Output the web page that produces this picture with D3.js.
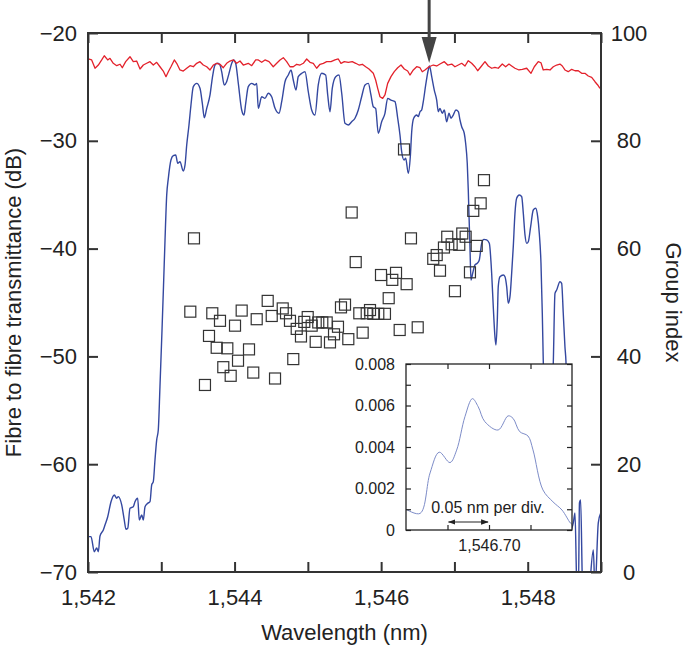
<!DOCTYPE html>
<html><head><meta charset="utf-8">
<script src="https://cdn.jsdelivr.net/npm/d3@7"></script>
<style>
body{margin:0;background:#fff}
svg text{font-family:"Liberation Sans",Arial,Helvetica,sans-serif;fill:#222}
</style>
</head><body>
<svg id="chart" width="685" height="648"></svg>
<script>
// ---------------- DATA ----------------
const wavelengthTicks = [1542,1543,1544,1545,1546,1547,1548,1549];
const wavelengthLabels = [1542,1544,1546,1548];
const transmittanceTicks = [-70,-60,-50,-40,-30,-20];
const groupIndexTicks = [0,20,40,60,80,100];
const insetYTicks = [0,0.001,0.002,0.003,0.004,0.005,0.006,0.007,0.008];
const insetYLabels = [0,0.002,0.004,0.006,0.008];
const insetXTicks = [1546.65,1546.70,1546.75];
const insetXLabels = [1546.70];
const arrowWavelength = 1546.655;
const divStart = 1546.65, divEnd = 1546.70;

// blue: fibre-to-fibre transmittance (dB)
const transmittance = [
[1542.004,-66.72],[1542.041,-66.72],[1542.086,-68.12],[1542.119,-67.77],[1542.141,-68.12],[1542.164,-66.66],
[1542.209,-66.10],[1542.232,-65.64],[1542.269,-64.87],[1542.314,-63.48],[1542.359,-62.86],[1542.392,-63.16],
[1542.413,-63.01],[1542.460,-63.78],[1542.495,-65.18],[1542.518,-66.04],[1542.542,-65.95],[1542.573,-64.09],
[1542.618,-63.94],[1542.641,-63.48],[1542.678,-63.16],[1542.700,-65.18],[1542.733,-64.71],[1542.755,-65.18],
[1542.778,-63.94],[1542.815,-63.63],[1542.846,-63.48],[1542.869,-61.93],[1542.891,-61.62],[1542.914,-59.61],
[1542.937,-57.76],[1542.959,-56.83],[1542.982,-52.81],[1543.010,-47.55],[1543.033,-42.91],[1543.051,-39.20],
[1543.074,-35.03],[1543.096,-33.48],[1543.132,-31.78],[1543.164,-31.38],[1543.197,-31.32],[1543.224,-32.09],
[1543.255,-31.94],[1543.300,-32.80],[1543.324,-32.24],[1543.347,-30.39],[1543.378,-28.53],[1543.405,-26.68],
[1543.437,-24.98],[1543.483,-24.67],[1543.528,-25.13],[1543.560,-26.52],[1543.587,-27.86],[1543.620,-26.99],
[1543.665,-25.75],[1543.696,-24.20],[1543.733,-22.97],[1543.770,-22.81],[1543.801,-22.97],[1543.824,-23.59],
[1543.860,-24.82],[1543.892,-24.52],[1543.924,-23.74],[1543.961,-22.81],[1543.988,-22.50],[1544.015,-22.81],
[1544.051,-24.67],[1544.097,-27.14],[1544.129,-27.61],[1544.152,-26.52],[1544.187,-24.98],[1544.234,-24.67],
[1544.279,-24.82],[1544.302,-24.67],[1544.324,-26.99],[1544.370,-25.91],[1544.415,-26.06],[1544.460,-25.59],
[1544.506,-25.91],[1544.552,-26.99],[1544.606,-27.45],[1544.643,-26.37],[1544.688,-24.52],[1544.733,-23.90],
[1544.770,-23.43],[1544.801,-24.36],[1544.838,-25.29],[1544.869,-24.05],[1544.916,-23.74],[1544.961,-23.59],
[1545.006,-25.45],[1545.052,-27.14],[1545.097,-27.61],[1545.142,-24.82],[1545.189,-23.74],[1545.243,-23.90],
[1545.271,-25.75],[1545.302,-27.30],[1545.333,-25.13],[1545.380,-24.05],[1545.425,-23.90],[1545.462,-25.59],
[1545.507,-28.38],[1545.552,-28.53],[1545.598,-28.23],[1545.643,-27.91],[1545.688,-27.14],[1545.734,-25.91],
[1545.780,-24.82],[1545.825,-24.67],[1545.861,-25.75],[1545.893,-26.84],[1545.925,-26.99],[1545.961,-29.30],
[1546.007,-28.23],[1546.052,-27.45],[1546.089,-26.06],[1546.134,-26.22],[1546.189,-26.37],[1546.226,-27.91],
[1546.257,-29.46],[1546.280,-31.01],[1546.312,-31.78],[1546.335,-31.62],[1546.370,-33.01],[1546.398,-31.47],
[1546.417,-29.16],[1546.444,-27.91],[1546.485,-27.61],[1546.507,-27.76],[1546.530,-27.30],[1546.553,-27.14],
[1546.575,-26.37],[1546.608,-24.82],[1546.643,-23.43],[1546.660,-23.06],[1546.690,-24.05],[1546.725,-25.29],
[1546.758,-26.22],[1546.780,-27.30],[1546.803,-26.99],[1546.834,-27.45],[1546.862,-27.14],[1546.894,-28.23],
[1546.926,-27.45],[1546.953,-27.91],[1546.984,-27.61],[1547.021,-27.14],[1547.053,-27.30],[1547.076,-28.07],
[1547.099,-28.69],[1547.134,-29.30],[1547.153,-30.23],[1547.175,-32.09],[1547.189,-34.56],[1547.198,-36.70],
[1547.212,-39.82],[1547.226,-42.91],[1547.249,-42.29],[1547.280,-41.52],[1547.312,-41.36],[1547.339,-41.06],
[1547.372,-39.51],[1547.403,-39.14],[1547.440,-39.20],[1547.476,-39.51],[1547.508,-42.29],[1547.530,-45.39],
[1547.553,-48.17],[1547.567,-48.94],[1547.585,-46.62],[1547.598,-43.53],[1547.621,-42.61],[1547.667,-42.45],
[1547.690,-42.61],[1547.713,-43.53],[1547.735,-45.07],[1547.758,-44.46],[1547.781,-42.29],[1547.803,-39.82],
[1547.826,-36.73],[1547.849,-35.33],[1547.885,-35.03],[1547.918,-35.19],[1547.940,-36.73],[1547.963,-38.74],
[1547.986,-39.51],[1548.008,-39.36],[1548.040,-37.97],[1548.076,-36.42],[1548.109,-36.26],[1548.136,-37.04],
[1548.158,-38.58],[1548.181,-41.36],[1548.199,-46.00],[1548.212,-50.33],[1548.235,-55.9],[1548.276,-58.7],
[1548.317,-55.9],[1548.349,-50.61],[1548.372,-44.15],[1548.395,-43.84],[1548.440,-43.07],[1548.463,-43.22],
[1548.485,-46.00],[1548.508,-49.10],[1548.522,-50.49],[1548.549,-58.7],[1548.590,-66.1],[1548.622,-65.45],
[1548.645,-64.53],[1548.668,-70.7],[1548.692,-71.7],[1548.706,-63.6],[1548.722,-63.32],[1548.750,-71.7],
[1548.822,-72.6],[1548.895,-67.96],[1548.918,-71.7],[1548.963,-65.45],[1548.996,-64.53]
];

// red: reference transmittance (dB)
const reference = [
[1542.004,-22.41],[1542.050,-22.50],[1542.096,-23.27],[1542.141,-22.97],[1542.187,-22.50],[1542.222,-22.11],
[1542.269,-22.50],[1542.300,-22.35],[1542.345,-22.81],[1542.392,-23.03],[1542.437,-22.90],[1542.468,-23.22],
[1542.514,-22.66],[1542.573,-22.20],[1542.618,-22.66],[1542.664,-22.60],[1542.710,-23.34],[1542.755,-22.97],
[1542.801,-22.81],[1542.846,-22.66],[1542.891,-22.97],[1542.937,-22.72],[1542.982,-23.13],[1543.027,-23.53],
[1543.064,-24.05],[1543.096,-23.59],[1543.132,-23.13],[1543.178,-22.50],[1543.210,-22.81],[1543.255,-23.43],
[1543.300,-23.53],[1543.347,-23.27],[1543.392,-23.03],[1543.437,-23.13],[1543.483,-22.81],[1543.528,-22.66],
[1543.573,-22.97],[1543.620,-23.13],[1543.665,-23.43],[1543.710,-22.97],[1543.756,-22.81],[1543.801,-22.90],
[1543.846,-23.22],[1543.892,-22.81],[1543.937,-22.60],[1543.983,-22.50],[1544.029,-22.81],[1544.074,-22.60],
[1544.119,-22.97],[1544.187,-22.81],[1544.234,-23.03],[1544.288,-22.50],[1544.324,-22.50],[1544.370,-22.72],
[1544.415,-22.50],[1544.470,-22.66],[1544.528,-23.13],[1544.575,-22.81],[1544.620,-22.50],[1544.665,-22.29],
[1544.711,-22.66],[1544.756,-23.13],[1544.801,-23.13],[1544.848,-22.90],[1544.893,-22.97],[1544.938,-22.81],
[1544.984,-22.41],[1545.029,-22.72],[1545.074,-22.81],[1545.120,-23.27],[1545.166,-22.90],[1545.211,-22.81],
[1545.257,-22.66],[1545.316,-22.66],[1545.370,-22.50],[1545.415,-22.41],[1545.452,-22.81],[1545.497,-22.66],
[1545.552,-22.72],[1545.606,-22.66],[1545.653,-22.81],[1545.698,-22.97],[1545.743,-22.90],[1545.789,-23.13],
[1545.834,-23.34],[1545.893,-23.74],[1545.925,-24.36],[1545.953,-25.13],[1545.984,-25.91],[1546.021,-26.06],
[1546.052,-25.75],[1546.089,-24.67],[1546.134,-24.05],[1546.179,-23.59],[1546.226,-23.22],[1546.271,-22.97],
[1546.316,-23.34],[1546.362,-23.53],[1546.393,-23.90],[1546.439,-23.43],[1546.485,-23.13],[1546.530,-23.22],
[1546.561,-23.59],[1546.598,-23.43],[1546.653,-23.13],[1546.711,-22.97],[1546.758,-23.06],[1546.803,-22.88],
[1546.862,-22.66],[1546.908,-22.97],[1546.963,-22.88],[1547.007,-23.13],[1547.053,-22.97],[1547.099,-22.81],
[1547.144,-23.06],[1547.189,-22.57],[1547.235,-22.81],[1547.280,-23.13],[1547.317,-23.50],[1547.362,-23.13],
[1547.417,-22.66],[1547.462,-23.06],[1547.508,-23.27],[1547.553,-23.18],[1547.598,-23.27],[1547.653,-22.88],
[1547.699,-23.13],[1547.744,-22.88],[1547.781,-23.06],[1547.826,-23.27],[1547.881,-23.43],[1547.926,-23.37],
[1547.986,-23.27],[1548.045,-23.74],[1548.090,-23.13],[1548.144,-22.66],[1548.181,-22.76],[1548.212,-23.43],
[1548.259,-23.37],[1548.304,-23.43],[1548.349,-23.13],[1548.395,-22.97],[1548.440,-22.88],[1548.472,-23.06],
[1548.508,-23.43],[1548.553,-23.59],[1548.600,-23.37],[1548.645,-23.50],[1548.690,-23.50],[1548.736,-23.74],
[1548.781,-23.74],[1548.826,-23.99],[1548.873,-24.11],[1548.918,-24.52],[1548.955,-24.82],[1548.986,-25.13]
];

// squares: group index
const groupIndex = [
[1543.446,61.9],[1543.396,48.3],[1543.596,34.7],[1543.651,43.8],[1543.696,48.0],[1543.756,41.6],
[1543.801,46.6],[1543.846,38.0],[1543.901,41.5],[1543.947,36.4],[1544.006,45.7],[1544.047,39.2],
[1544.097,48.5],[1544.197,41.3],[1544.255,37.0],[1544.302,46.9],[1544.452,50.3],[1544.507,47.5],
[1544.552,35.9],[1544.657,48.9],[1544.702,48.0],[1544.756,46.6],[1544.801,39.5],[1544.848,45.1],
[1544.906,43.7],[1544.951,46.4],[1544.998,47.3],[1545.052,45.7],[1545.107,42.7],[1545.142,46.3],
[1545.197,46.3],[1545.257,46.3],[1545.302,42.6],[1545.357,44.1],[1545.411,45.5],[1545.452,49.1],
[1545.507,49.6],[1545.552,43.2],[1545.598,66.7],[1545.653,57.5],[1545.702,48.0],[1545.748,44.4],
[1545.803,48.0],[1545.848,48.6],[1545.893,47.9],[1545.961,47.9],[1545.998,55.1],[1546.052,47.9],
[1546.103,50.8],[1546.152,54.2],[1546.203,55.5],[1546.253,44.9],[1546.312,78.4],[1546.348,53.4],
[1546.407,61.9],[1546.499,45.4],[1546.711,58.1],[1546.758,58.8],[1546.803,55.9],[1546.857,60.2],
[1546.902,62.2],[1546.962,60.8],[1547.007,52.1],[1547.066,60.7],[1547.107,62.8],[1547.153,62.2],
[1547.212,55.6],[1547.257,67.0],[1547.304,60.5],[1547.358,68.4],[1547.403,72.7]
];

// inset trace
const insetTrace = [
[1546.600,0.00100],[1546.617,0.00080],[1546.629,0.00275],[1546.640,0.00375],[1546.653,0.00325],
[1546.661,0.00385],[1546.671,0.00546],[1546.680,0.00633],[1546.687,0.00594],[1546.695,0.00522],
[1546.711,0.00482],[1546.723,0.00550],[1546.729,0.00538],[1546.737,0.00474],[1546.747,0.00453],
[1546.753,0.00386],[1546.765,0.00193],[1546.777,0.00136],[1546.788,0.00096],[1546.798,0.00034],[1546.800,0.00028]
];

// ---------------- DRAW ----------------
const svg = d3.select("#chart");
const L = 88, R = 601, T = 33, B = 572;
const x = d3.scaleLinear().domain([1542,1549]).range([L,R]);
const yL = d3.scaleLinear().domain([-70,-20]).range([B,T]);
const yR = d3.scaleLinear().domain([0,100]).range([B,T]);

svg.append("defs").append("clipPath").attr("id","plotclip")
  .append("rect").attr("x",L).attr("y",T).attr("width",R-L).attr("height",B-T);

const frameColor = "#333";

// blue line
svg.append("path").datum(transmittance)
  .attr("clip-path","url(#plotclip)")
  .attr("fill","none").attr("stroke","#3448a0").attr("stroke-width",1.4)
  .attr("stroke-linejoin","round")
  .attr("d", d3.line().x(d=>x(d[0])).y(d=>yL(d[1])).curve(d3.curveMonotoneX));

// red line
svg.append("path").datum(reference)
  .attr("clip-path","url(#plotclip)")
  .attr("fill","none").attr("stroke","#e3212b").attr("stroke-width",1.3)
  .attr("stroke-linejoin","round")
  .attr("d", d3.line().x(d=>x(d[0])).y(d=>yL(d[1])));

// squares
const sq = 11;
svg.append("g").selectAll("rect").data(groupIndex).join("rect")
  .attr("x", d=>x(d[0])-sq/2).attr("y", d=>yR(d[1])-sq/2)
  .attr("width",sq).attr("height",sq)
  .attr("fill","none").attr("stroke","#333").attr("stroke-width",1.2);

// axes
const fs = "22px";
function styleAxis(g){
  g.select(".domain").remove();
  g.selectAll(".tick line").attr("stroke",frameColor).attr("stroke-width",2);
  g.selectAll(".tick text").style("font-size",fs).attr("fill","#222");
}
svg.append("g").attr("transform",`translate(0,${B})`)
  .call(d3.axisBottom(x).tickValues(wavelengthTicks).tickSize(-10).tickPadding(17)
    .tickFormat(d=>wavelengthLabels.includes(d)?d3.format(",")(d):""))
  .call(styleAxis);
svg.append("g").attr("transform",`translate(0,${T})`)
  .call(d3.axisTop(x).tickValues(wavelengthTicks).tickSize(-10).tickFormat(""))
  .call(styleAxis);
svg.append("g").attr("transform",`translate(${L},0)`)
  .call(d3.axisLeft(yL).tickValues(transmittanceTicks).tickSize(-10).tickPadding(11)
    .tickFormat(d3.format("d")))
  .call(styleAxis);
const gr = svg.append("g").attr("transform",`translate(${R},0)`)
  .call(d3.axisRight(yR).tickValues(groupIndexTicks).tickSize(-10).tickPadding(28)
    .tickFormat(d3.format("d")))
  .call(styleAxis);
gr.selectAll(".tick text").attr("text-anchor","middle");

// frame
svg.append("rect").attr("x",L).attr("y",T).attr("width",R-L).attr("height",B-T)
  .attr("fill","none").attr("stroke",frameColor).attr("stroke-width",2);

// titles
svg.append("text").attr("x",(L+R)/2).attr("y",640).attr("text-anchor","middle")
  .style("font-size",fs).text("Wavelength (nm)");
svg.append("text").attr("transform",`translate(21,${(T+B)/2}) rotate(-90)`)
  .attr("text-anchor","middle").style("font-size",fs).text("Fibre to fibre transmittance (dB)");
svg.append("text").attr("transform",`translate(666,${(T+B)/2}) rotate(90)`)
  .attr("text-anchor","middle").style("font-size",fs).text("Group index");

// top arrow
const ax = x(arrowWavelength);
svg.append("line").attr("x1",ax).attr("x2",ax).attr("y1",0).attr("y2",42)
  .attr("stroke","#444").attr("stroke-width",3);
svg.append("path").attr("d",`M${ax-7.5},37 L${ax+7.5},37 L${ax},63 Z`).attr("fill","#444");

// ---------------- INSET ----------------
const iL = 406, iR = 572, iT = 364, iB = 530;
const xi = d3.scaleLinear().domain([1546.60,1546.80]).range([iL,iR]);
const yi = d3.scaleLinear().domain([0,0.008]).range([iB,iT]);
svg.append("rect").attr("x",iL).attr("y",iT).attr("width",iR-iL).attr("height",iB-iT)
  .attr("fill","#fff").attr("stroke","none");
svg.append("path").datum(insetTrace)
  .attr("fill","none").attr("stroke","#7d8cc8").attr("stroke-width",1)
  .attr("d", d3.line().x(d=>xi(d[0])).y(d=>yi(d[1])).curve(d3.curveCatmullRom));
const fsi = "16px";
function styleInset(g){
  g.select(".domain").remove();
  g.selectAll(".tick line").attr("stroke","#222").attr("stroke-width",1.2);
  g.selectAll(".tick text").style("font-size",fsi).attr("fill","#222");
}
svg.append("g").attr("transform",`translate(${iL},0)`)
  .call(d3.axisLeft(yi).tickValues(insetYTicks).tickSize(-5).tickPadding(11)
    .tickFormat(d=>insetYLabels.some(v=>Math.abs(v-d)<1e-9)?(d===0?"0":d3.format(".3f")(d)):""))
  .call(styleInset);
svg.append("g").attr("transform",`translate(${iR},0)`)
  .call(d3.axisRight(yi).tickValues(insetYTicks).tickSize(-5).tickFormat(""))
  .call(styleInset);
svg.append("g").attr("transform",`translate(0,${iB})`)
  .call(d3.axisBottom(xi).tickValues(insetXTicks).tickSize(-5).tickPadding(10)
    .tickFormat(d=>insetXLabels.some(v=>Math.abs(v-d)<1e-9)?d3.format(",.2f")(d):""))
  .call(styleInset);
svg.append("g").attr("transform",`translate(0,${iT})`)
  .call(d3.axisTop(xi).tickValues(insetXTicks).tickSize(-5).tickFormat(""))
  .call(styleInset);
svg.append("rect").attr("x",iL).attr("y",iT).attr("width",iR-iL).attr("height",iB-iT)
  .attr("fill","none").attr("stroke","#222").attr("stroke-width",1.3);

// per-div arrow
const defs = svg.select("defs");
defs.append("marker").attr("id","ah").attr("viewBox","0 0 10 10").attr("refX",9).attr("refY",5)
  .attr("markerWidth",7).attr("markerHeight",7).attr("orient","auto-start-reverse")
  .append("path").attr("d","M0,1.5 L10,5 L0,8.5 Z").attr("fill","#222");
svg.append("line").attr("x1",xi(divStart)+1).attr("x2",xi(divEnd)-1).attr("y1",522).attr("y2",522)
  .attr("stroke","#222").attr("stroke-width",1.1)
  .attr("marker-start","url(#ah)").attr("marker-end","url(#ah)");
svg.append("text").attr("x",488).attr("y",513).attr("text-anchor","middle")
  .style("font-size",fsi).text("0.05 nm per div.");
</script>
</body></html>
